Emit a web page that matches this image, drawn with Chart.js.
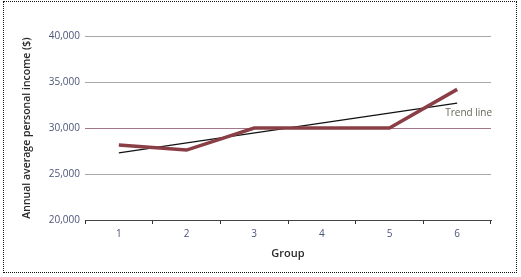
<!DOCTYPE html>
<html lang="en">
<head>
  <meta charset="UTF-8">
  <title>Annual average personal income by group</title>
  <script src="https://cdn.jsdelivr.net/npm/chart.js"></script>
  <style>
    html, body { margin: 0; padding: 0; background: #fff; }
    #frame {
      position: absolute; left: 3px; top: 1px;
      width: 512px; height: 270px;
      border: 1px dotted #111;
    }
    #wrap { position: absolute; left: 0; top: 0; width: 521px; height: 277px; }
  </style>
</head>
<body>
  <div id="frame"></div>
  <div id="wrap"><canvas id="incomeChart" width="521" height="277"></canvas></div>

  <script>
    const groups = ['1', '2', '3', '4', '5', '6'];
    const income = [28150, 27600, 30000, 30000, 30000, 34200];
    // trend line, only its two end points
    const trend = [27300, null, null, null, null, 32700];
    const yTicks = [20000, 25000, 30000, 35000, 40000];

    const tickFont = { family: 'Open Sans', size: 10 };
    const tickColor = '#4b5578';

    // small label next to the end of the trend line
    const trendLabel = {
      id: 'trendLabel',
      afterDatasetsDraw(chart) {
        const { ctx, scales: { x, y } } = chart;
        ctx.save();
        ctx.font = '10px "Open Sans"';
        ctx.fillStyle = '#666655';
        ctx.textBaseline = 'middle';
        ctx.fillText('Trend line', x.getPixelForValue(5) - 12, y.getPixelForValue(31650));
        ctx.restore();
      }
    };

    new Chart(document.getElementById('incomeChart'), {
      type: 'line',
      data: {
        labels: groups,
        datasets: [
          {
            label: 'Income',
            data: income,
            borderColor: '#8a3f47',
            borderWidth: 3.5,
            pointRadius: 0,
            tension: 0,
            borderJoinStyle: 'miter'
          },
          {
            label: 'Trend line',
            data: trend,
            borderColor: '#111',
            borderWidth: 1.2,
            pointRadius: 0,
            spanGaps: true
          }
        ]
      },
      options: {
        responsive: false,
        animation: false,
        layout: { padding: { left: 0, top: 36, right: 30, bottom: 17 } },
        plugins: { legend: { display: false }, tooltip: { enabled: false } },
        scales: {
          x: {
            offset: true,
            grid: {
              offset: true,
              drawOnChartArea: false,
              drawTicks: true,
              tickLength: 4,
              color: '#333'
            },
            border: { display: true, color: '#444', width: 1 },
            ticks: { font: tickFont, color: tickColor, padding: 4 },
            title: {
              display: true,
              text: 'Group',
              font: { family: 'Open Sans', size: 11, weight: '600' },
              color: '#2a2a2a',
              padding: { top: 4, bottom: 0 }
            },
            afterFit(scale) { scale.height = 40; }
          },
          y: {
            min: 20000,
            max: 40000,
            afterBuildTicks(scale) { scale.ticks = yTicks.map(v => ({ value: v })); },
            grid: {
              drawTicks: false,
              color: ctx => ctx.tick && ctx.tick.value === 30000 ? '#a2768a' : '#a8a8a8',
              lineWidth: 1
            },
            border: { display: false },
            ticks: {
              font: tickFont,
              color: tickColor,
              padding: 5,
              callback: v => v.toLocaleString('en-US')
            },
            title: {
              display: true,
              text: 'Annual average personal income ($)',
              font: { family: 'Open Sans', size: 10.5, weight: '600' },
              color: '#2a2a2a',
              padding: { top: 21, bottom: 0 }
            },
            afterFit(scale) { scale.width = 85; }
          }
        }
      },
      plugins: [trendLabel]
    });
  </script>
</body>
</html>
